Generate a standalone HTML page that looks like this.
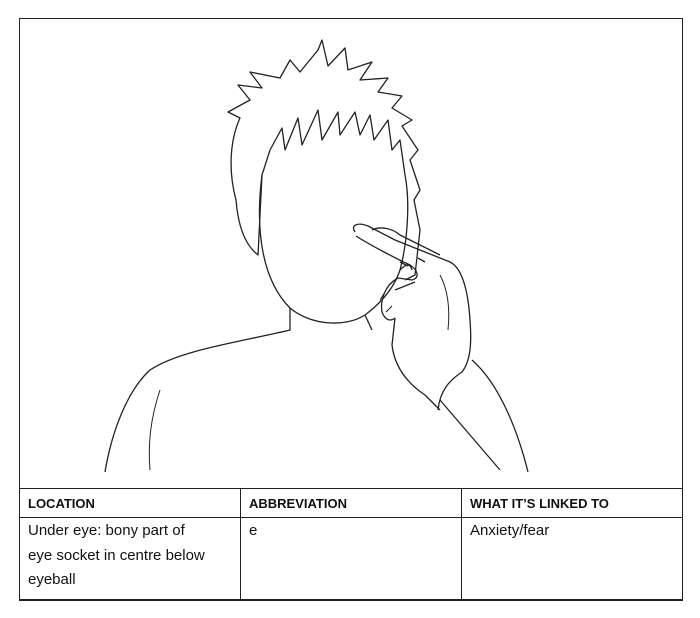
<!DOCTYPE html>
<html><head><meta charset="utf-8"><style>
html,body{margin:0;padding:0;background:#fff;}
.wrap{position:relative;width:700px;height:618px;overflow:hidden;font-family:"Liberation Sans",Arial,sans-serif;}
.box{position:absolute;left:19px;top:18px;width:662px;height:581px;border:1.5px solid #222;}
.t{position:absolute;left:19px;top:488px;width:664px;border-collapse:collapse;}
table{border-collapse:collapse;}
td{border:1.5px solid #222;vertical-align:top;padding:0 0 0 8px;color:#111;white-space:nowrap;}
.h td{height:28px;font-weight:bold;font-size:13px;vertical-align:middle;}
.b td{height:80px;font-size:15px;line-height:24.5px;padding-top:1px;}
</style></head><body><div class="wrap">
<div class="box"></div>
<svg width="700" height="618" style="position:absolute;left:0;top:0" fill="none" stroke="#222" stroke-width="1.3" stroke-linejoin="round">
<path d="M236,200 C228,170 230,140 240,118 L228,112 L250,100 L238,85 L262,88 L250,72 L280,78 L290,60 L300,72 L318,50 L322,40 L328,66 L345,48 L348,70 L372,62 L360,80 L388,78 L378,92 L402,96 L392,108 L412,120 L402,126 L418,150 L410,160 L420,190 L414,200 L420,230 L415,275 L405,280"/>
<path d="M236,200 C238,225 245,245 258,255 L262,175"/>
<path d="M262,175 L270,150 L282,128 L285,150 L298,118 L302,145 L318,110 L322,140 L338,112 L340,135 L355,112 L360,135 L370,115 L374,140 L388,120 L392,150 L400,140 L405,175"/>
<path d="M262,175 C255,230 262,280 290,308 C310,325 345,328 365,315 C385,300 395,285 400,270 C408,240 410,200 405,175"/>
<path d="M400,270 C405,265 410,262 412,270"/>
<path d="M290,308 L290,330 C240,342 180,350 150,370 C128,390 112,430 105,472"/>
<path d="M365,315 L372,330"/>
<path d="M160,390 C150,420 148,445 150,470" stroke-width="1"/>
<path d="M472,360 C495,380 515,420 528,472"/>
<path d="M440,400 L500,470"/>
<path d="M355,232 C350,225 358,222 368,226 L395,240 L450,262 C462,268 468,290 470,320 C472,345 470,362 462,372 C450,380 440,390 438,410"/>
<path d="M356,236 C370,245 395,258 410,265 C418,270 420,278 412,280 L398,278"/>
<path d="M372,230 C380,226 392,228 400,235 L440,255"/>
<path d="M398,278 C385,285 380,300 382,312 C385,320 390,322 395,318"/>
<path d="M395,318 L392,345 C395,370 410,385 425,395 L440,410"/>
<path d="M395,290 L415,282 M400,262 L408,266 M418,258 L425,262"/>
<path d="M440,275 C448,290 450,310 448,330" stroke-width="1"/>
<path d="M380,300 L385,292 M386,312 L392,306" stroke-width="1"/>
</svg>
<table class="t">
<tr class="h"><td style="width:212px">LOCATION</td><td style="width:212px">ABBREVIATION</td><td>WHAT IT’S LINKED TO</td></tr>
<tr class="b"><td>Under eye: bony part of<br>eye socket in centre below<br>eyeball</td><td>e</td><td>Anxiety/fear</td></tr>
</table>
</div></body></html>
